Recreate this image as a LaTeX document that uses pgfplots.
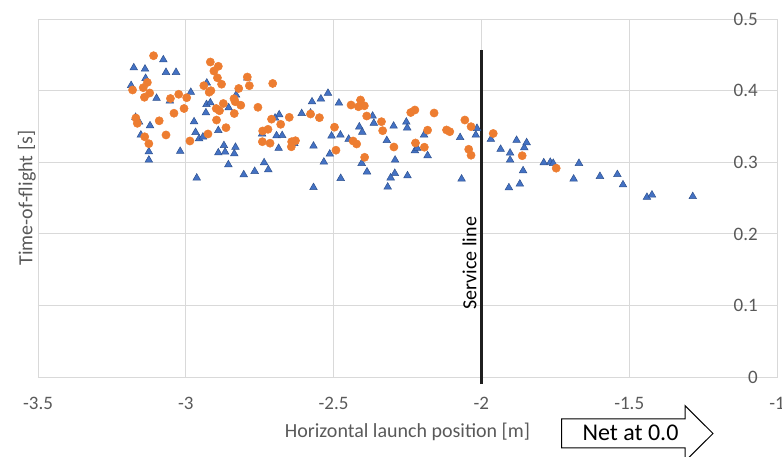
\documentclass[border=0pt]{standalone}
\usepackage{pgfplots}
\pgfplotsset{compat=1.18}
\usepackage{fontspec}
\setmainfont{Carlito}
\definecolor{tickgray}{HTML}{595959}
\definecolor{gridgray}{HTML}{D9D9D9}
\definecolor{triblue}{HTML}{4472C4}
\definecolor{triedge}{HTML}{2F528F}
\definecolor{dotorange}{HTML}{ED7D31}
\begin{document}
\begin{tikzpicture}[x=1pt,y=1pt]
\useasboundingbox (0,0) rectangle (782,457);
\begin{axis}[
  at={(38pt,80pt)}, anchor=south west, scale only axis,
  width=739pt, height=357.7pt,
  xmin=-3.5, xmax=-1, ymin=0, ymax=0.5,
  xtick={-3.5,-3,-2.5,-2,-1.5,-1},
  ytick={0,0.1,0.2,0.3,0.4,0.5},
  major tick length=0pt,
  grid=major,
  grid style={draw=gridgray, line width=0.9pt},
  axis line style={draw=gridgray, line width=0.9pt},
  yticklabel pos=right,
  /pgf/number format/assume math mode=true,
  /pgf/number format/fixed,
  tick label style={font=\fontsize{19}{22}\selectfont, text=tickgray},
  xticklabel style={anchor=center, yshift=-26pt},
  yticklabel style={anchor=east, inner sep=0pt, xshift=-19pt},
  xlabel={Horizontal launch position [m]},
  ylabel={Time-of-flight [s]},
  label style={font=\fontsize{20}{24}\selectfont, text=tickgray},
  x label style={at={(axis description cs:0.5,-0.1705)}, anchor=base},
  y label style={at={(axis description cs:-0.0077,0.5)}, anchor=base},
  clip=false,
]
\addplot[only marks, mark=triangle*, mark size=4.4pt,
  mark options={fill=triblue, draw=triedge, line width=0.5pt}] coordinates {
(-3.176,0.4323) (-3.138,0.4305) (-3.076,0.4435) (-3.067,0.4259) (-3.033,0.4259)
(-3.136,0.4175) (-3.185,0.4075) (-3.099,0.3896) (-3.054,0.3858) (-2.983,0.3980)
(-2.929,0.4110) (-2.830,0.3942) (-2.792,0.4179) (-2.930,0.3809) (-2.917,0.3834)
(-2.932,0.3694) (-2.855,0.3764) (-3.170,0.3630) (-3.158,0.3564) (-3.121,0.3513)
(-3.152,0.3383) (-3.125,0.3149) (-3.125,0.3033) (-3.019,0.3155) (-2.972,0.3569)
(-2.967,0.3420) (-2.955,0.3331) (-2.942,0.3355) (-2.890,0.3446) (-2.871,0.3236)
(-2.890,0.3134) (-2.867,0.3145) (-2.832,0.3212) (-2.836,0.3121) (-2.963,0.2782)
(-2.856,0.2968) (-2.804,0.2828) (-2.767,0.2875) (-2.735,0.2996) (-2.721,0.2898)
(-2.742,0.3397) (-2.693,0.3373) (-2.674,0.3376) (-2.684,0.3666) (-2.698,0.3620)
(-2.686,0.3197) (-2.633,0.3264) (-2.608,0.3683) (-2.573,0.3847) (-2.543,0.3887)
(-2.519,0.3967) (-2.482,0.3830) (-2.568,0.3229) (-2.568,0.2649) (-2.533,0.3005)
(-2.507,0.3369) (-2.513,0.3117) (-2.477,0.3383) (-2.476,0.2777) (-2.449,0.3325)
(-2.413,0.3497) (-2.403,0.3422) (-2.405,0.2987) (-2.387,0.2868) (-2.368,0.3648)
(-2.364,0.3548) (-2.320,0.3306) (-2.297,0.3508) (-2.292,0.3033) (-2.293,0.2847)
(-2.307,0.2784) (-2.317,0.2656) (-2.254,0.3564) (-2.251,0.3483) (-2.250,0.2814)
(-2.225,0.3163) (-2.217,0.3197) (-2.194,0.3383) (-2.182,0.3095) (-2.072,0.3348)
(-2.067,0.2768) (-2.019,0.3383) (-2.015,0.3476) (-1.968,0.3323) (-1.935,0.3184)
(-1.907,0.2646) (-1.903,0.3033) (-1.903,0.3131) (-1.881,0.3309) (-1.870,0.2698)
(-1.859,0.2884) (-1.855,0.3205) (-1.847,0.3276) (-1.789,0.2996) (-1.767,0.3002)
(-1.757,0.2987) (-1.688,0.2768) (-1.670,0.2987) (-1.599,0.2805) (-1.540,0.2831)
(-1.521,0.2687) (-1.440,0.2513) (-1.423,0.2545) (-1.285,0.2523) (-2.578,0.3690)
};
\addplot[only marks, mark=*, mark size=4.1pt,
  mark options={fill=dotorange, draw=dotorange, line width=0.5pt}] coordinates {
(-3.109,0.4491) (-3.180,0.4012) (-3.144,0.4044) (-3.130,0.4117) (-3.122,0.3970)
(-3.140,0.3910) (-3.052,0.3893) (-3.024,0.3952) (-2.997,0.3904) (-3.040,0.3687)
(-3.006,0.3753) (-3.090,0.3581) (-3.169,0.3620) (-3.164,0.3546) (-3.067,0.3383)
(-3.139,0.3358) (-3.125,0.3261) (-2.986,0.3299) (-2.917,0.4403) (-2.890,0.4343)
(-2.905,0.4277) (-2.893,0.4182) (-2.879,0.4093) (-2.939,0.4072) (-2.921,0.3981)
(-2.915,0.4002) (-2.821,0.4033) (-2.792,0.4193) (-2.785,0.4072) (-2.706,0.4103)
(-2.837,0.3890) (-2.833,0.3848) (-2.814,0.3799) (-2.873,0.3823) (-2.897,0.3753)
(-2.886,0.3722) (-2.836,0.3683) (-2.896,0.3592) (-2.864,0.3485) (-2.925,0.3397)
(-2.756,0.3770) (-2.710,0.3604) (-2.679,0.3532) (-2.650,0.3630) (-2.740,0.3439)
(-2.722,0.3462) (-2.741,0.3289) (-2.715,0.3268) (-2.642,0.3289) (-2.629,0.3303)
(-2.643,0.3218) (-2.578,0.3676) (-2.548,0.3625) (-2.497,0.3492) (-2.492,0.3170)
(-2.441,0.3802) (-2.409,0.3872) (-2.416,0.3778) (-2.396,0.3791) (-2.388,0.3648)
(-2.434,0.3299) (-2.422,0.3257) (-2.395,0.3071) (-2.338,0.3569) (-2.334,0.3443)
(-2.296,0.3215) (-2.239,0.3697) (-2.225,0.3732) (-2.160,0.3690) (-2.182,0.3450)
(-2.223,0.3271) (-2.193,0.3212) (-2.118,0.3453) (-2.107,0.3429) (-2.056,0.3592)
(-2.035,0.3499) (-2.043,0.3183) (-2.035,0.3100) (-1.960,0.3404) (-1.862,0.3093)
(-1.747,0.2919)
};
\addplot[draw=black!88, line width=2.7pt, no marks] coordinates {(-2,-0.01) (-2,0.457)};
\node[rotate=90, anchor=base, inner sep=0pt, font=\fontsize{20}{24}\selectfont, text=black]
  at (axis cs:-2.0169,0.159) {Service line};
\end{axis}
\draw[black, line width=1pt, fill=white] (561.7,38) -- (685,38) -- (685,51.3) -- (713,23.5)
  -- (685,-4.3) -- (685,9) -- (561.7,9) -- cycle;
\node[font=\fontsize{24}{28}\selectfont, text=black] at (630.5,24) {Net at 0.0};
\end{tikzpicture}
\end{document}
